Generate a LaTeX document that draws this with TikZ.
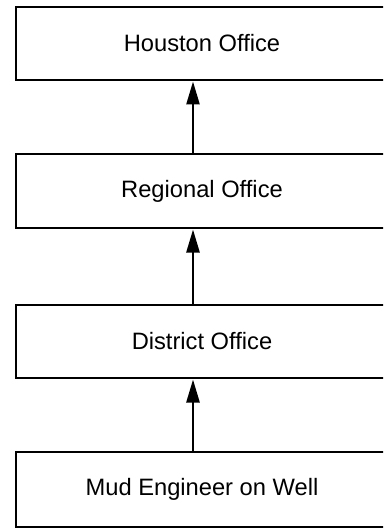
\documentclass[tikz,border=0pt]{standalone}
\usepackage{fontspec}
\setmainfont{Liberation Sans}
\usetikzlibrary{arrows.meta}
\begin{document}
\begin{tikzpicture}[x=1pt,y=-1pt,
  office/.style={draw=black, line width=1.8pt, rectangle,
    minimum width=372pt, inner sep=0pt,
    font=\fontsize{23.7}{28}\selectfont},
  report/.style={line width=2.5pt,
    -{Triangle[length=23pt,width=13pt]}, shorten >=0.6pt}]
  \useasboundingbox (0,0) rectangle (383,529);
  \clip (0,0) rectangle (383,529);
  \fill[white] (0,0) rectangle (383,529);

  % boxes of the reporting chain, from top to bottom (they run past the right edge)
  \node[office, minimum height=73pt] (houston)  at (202,43.5)  {Houston Office};
  \node[office, minimum height=74pt] (regional) at (202,191)   {Regional Office};
  \node[office, minimum height=73pt] (district) at (202,341.5) {District Office};
  \node[office, minimum height=75pt] (mud)      at (202,489.5) {Mud Engineer on Well};

  % reporting lines, each pointing up to the next office
  \draw[report] ([xshift=-9pt]regional.north) -- ([xshift=-9pt]houston.south);
  \draw[report] ([xshift=-9pt]district.north) -- ([xshift=-9pt]regional.south);
  \draw[report] ([xshift=-9pt]mud.north)      -- ([xshift=-9pt]district.south);
\end{tikzpicture}
\end{document}
